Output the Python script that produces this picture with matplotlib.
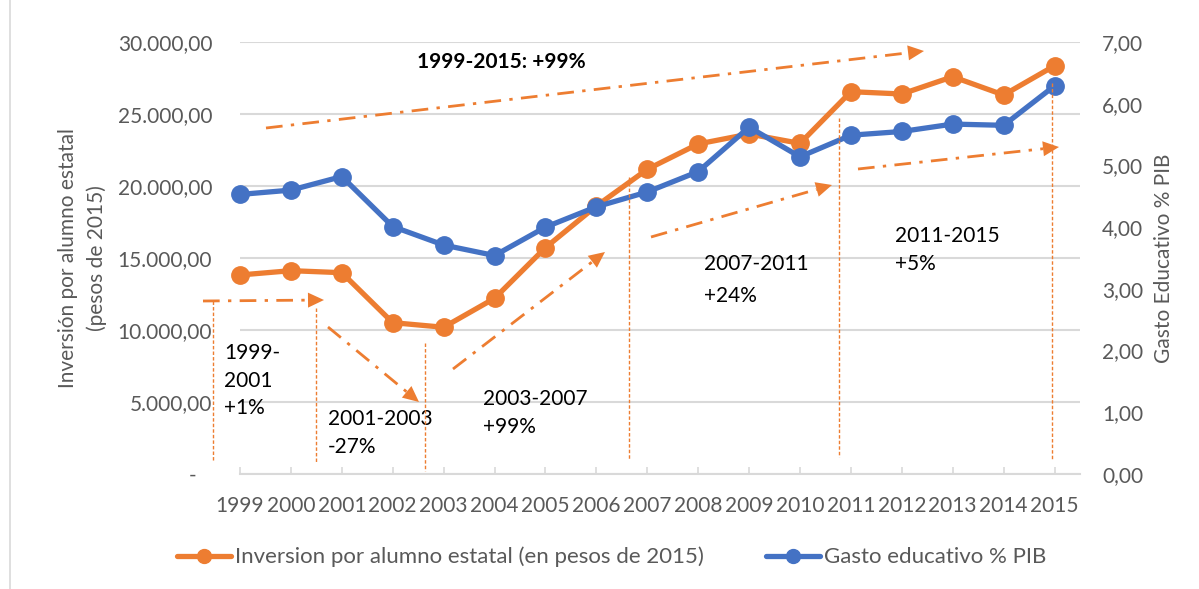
import matplotlib
matplotlib.use("Agg")
import numpy as np
import matplotlib.pyplot as plt
from matplotlib.lines import Line2D
from matplotlib.patches import Polygon

# ---------------- data ----------------
years = ["1999", "2000", "2001", "2002", "2003", "2004", "2005", "2006", "2007",
         "2008", "2009", "2010", "2011", "2012", "2013", "2014", "2015"]
inversion = [13820, 14120, 13980, 10510, 10190, 12200, 15720, 18610, 21160,
             22920, 23610, 22960, 26550, 26390, 27590, 26320, 28350]
gasto_pib = [4.53, 4.60, 4.82, 4.01, 3.71, 3.54, 4.00, 4.33, 4.57,
             4.90, 5.62, 5.14, 5.49, 5.55, 5.67, 5.65, 6.29]
left_ticks = [0, 5000, 10000, 15000, 20000, 25000, 30000]
left_tick_labels = ["-\u00a0\u00a0\u2009\u2009", "5.000,00", "10.000,00", "15.000,00",
                    "20.000,00", "25.000,00", "30.000,00"]
right_ticks = [0, 1, 2, 3, 4, 5, 6, 7]
right_tick_labels = ["0,00", "1,00", "2,00", "3,00", "4,00", "5,00", "6,00", "7,00"]
label_inv = "Inversion por alumno estatal (en pesos de 2015)"
label_pib = "Gasto educativo % PIB"
ylabel_left = "Inversión por alumno estatal\n(pesos de 2015)"
ylabel_right = "Gasto Educativo % PIB"
title_note = "1999-2015: +99%"
period_notes = ["1999-\n2001\n+1%", "2001-2003\n-27%", "2003-2007\n+99%",
                "2007-2011\n+24%", "2011-2015\n+5%"]

ORANGE = "#ED7D31"
BLUE = "#4472C4"
GRID = "#D9D9D9"
TXT = "#595959"
FONT = "Lato"

W, H = 1199, 589
plt.rcParams["font.family"] = [FONT, "DejaVu Sans"]
fig = plt.figure(figsize=(W / 100, H / 100), dpi=100)
ax = fig.add_axes([240 / W, 1 - 474 / H, (1080 - 240) / W, (474 - 42) / H])
ax2 = ax.twinx()

x = list(range(len(years)))
ax.plot(x, inversion, color=ORANGE, lw=3.8, marker="o", ms=12.5, clip_on=False,
        solid_capstyle="round", zorder=3, label=label_inv)
ax2.plot(x, gasto_pib, color=BLUE, lw=3.8, marker="o", ms=12.5, clip_on=False,
         solid_capstyle="round", zorder=3, label=label_pib)

ax.set_xlim(0, 16.5)
ax.set_ylim(0, 30000)
ax2.set_ylim(0, 7)

ax.set_yticks(left_ticks)
ax.set_yticklabels(left_tick_labels)
ax2.set_yticks(right_ticks)
ax2.set_yticklabels(right_tick_labels)
ax.set_xticks(x)
ax.set_xticklabels(years)

for a in (ax, ax2):
    for s in a.spines.values():
        s.set_visible(False)
ax.spines["bottom"].set_visible(True)
ax.spines["bottom"].set_color(GRID)
ax.spines["bottom"].set_linewidth(1.5)

ax.yaxis.grid(True, color=GRID, lw=1.5)
ax.set_axisbelow(True)
ax.tick_params(axis="y", length=0, pad=20, labelsize=15, labelcolor=TXT)
ax2.tick_params(axis="y", length=0, pad=16, labelsize=15, labelcolor=TXT)
ax.tick_params(axis="x", direction="in", length=5, width=1.2, color=GRID,
               pad=16, labelsize=15, labelcolor=TXT)

ax.set_ylabel(ylabel_left, fontsize=15, color=TXT, labelpad=8, linespacing=1.5)
ax2.set_ylabel(ylabel_right, fontsize=15, color=TXT, labelpad=8)

# ---------------- annotations (figure pixel coordinates) ----------------
def P(px, py):
    return (px / W, 1 - py / H)

arrows = [((266, 128), (924, 51)),
          ((203, 301), (324, 300)),
          ((328, 327), (419, 402)),
          ((453, 369), (605, 252)),
          ((651, 237), (832, 185)),
          ((858, 169), (1059, 147))]
HL, HW = 16, 15
for (p0, p1) in arrows:
    a0 = np.array(p0, float)
    a1 = np.array(p1, float)
    d = (a1 - a0) / np.linalg.norm(a1 - a0)
    n = np.array([-d[1], d[0]])
    base = a1 - HL * d
    fig.add_artist(Line2D([P(*a0)[0], P(*base)[0]], [P(*a0)[1], P(*base)[1]],
                          transform=fig.transFigure, color=ORANGE, lw=2.0,
                          ls=(0, (6, 3, 1.2, 3)), zorder=5))
    tri = [P(*a1), P(*(base + n * HW / 2)), P(*(base - n * HW / 2))]
    fig.add_artist(Polygon(tri, closed=True, transform=fig.transFigure,
                           facecolor=ORANGE, edgecolor="none", zorder=5))

vlines = [(213, 301, 462), (316, 308, 463), (425, 343, 471),
          (629, 177, 460), (839, 118, 457), (1052, 83, 460)]
for (vx, y0, y1) in vlines:
    fig.add_artist(Line2D([vx / W, vx / W], [1 - y0 / H, 1 - y1 / H],
                          transform=fig.transFigure, color=ORANGE, lw=1.0,
                          ls=(0, (2.5, 1.5)), zorder=5))

fig.text(*P(417, 62), title_note, fontsize=15, fontweight="bold", color="black",
         ha="left", va="center")
note_pos = [(224, 343), (328, 409), (483, 389), (704, 254), (895, 226)]
note_ls = [1.47, 1.5, 1.47, 1.75, 1.5]
for txt, (nx, ny), ls in zip(period_notes, note_pos, note_ls):
    fig.text(*P(nx, ny), txt, fontsize=15, color="black", ha="left", va="top",
             linespacing=ls)

# left border of chart area
fig.add_artist(Line2D([10 / W, 10 / W], [0, 1], transform=fig.transFigure,
                      color=GRID, lw=1.2))

# legend
h1, l1 = ax.get_legend_handles_labels()
h2, l2 = ax2.get_legend_handles_labels()
fig.legend(h1 + h2, l1 + l2, loc="center", bbox_to_anchor=(612 / W, 1 - 557 / H),
           ncol=2, frameon=False, fontsize=16, labelcolor=TXT, handlelength=2.4,
           handletextpad=0.2, columnspacing=2.8, markerscale=0.8)

fig.savefig("out.png", dpi=100)
